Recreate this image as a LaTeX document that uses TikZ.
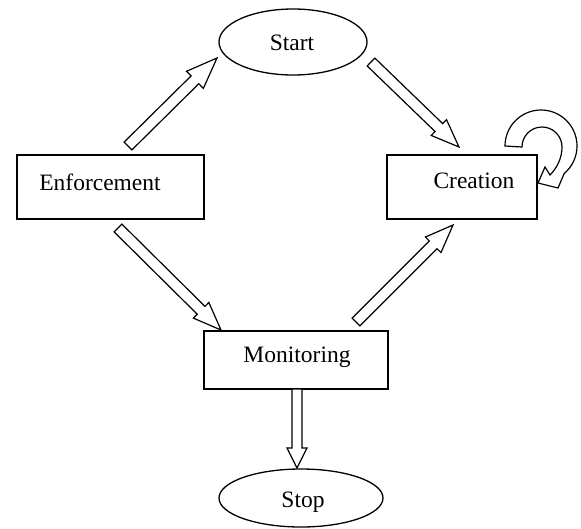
\documentclass[tikz,border=0pt]{standalone}
\usepackage{fontspec}
\setmainfont{Liberation Serif}
\usetikzlibrary{shapes.geometric,calc}

\tikzset{
  stepbox/.style={draw, line width=1.3pt, rectangle, inner sep=0pt},
  terminal/.style={draw, line width=1.3pt, ellipse, inner sep=0pt},
  caption/.style={inner sep=0pt, font=\fontsize{23.5}{28}\selectfont},
  blockarrow/.style={draw, fill=white, line width=1.2pt, line join=miter},
}

% hollow block arrow: tail, tip, shaft half-width, head half-width, head length
\newcommand\hollowarrow[5]{%
  \coordinate (hb) at ($(#2)!#5!(#1)$);
  \path[blockarrow]
    ($(#1)!#3!90:(#2)$) -- ($(hb)!#3!90:(#2)$) -- ($(hb)!#4!90:(#2)$) -- (#2)
    -- ($(hb)!#4!-90:(#2)$) -- ($(hb)!#3!-90:(#2)$) -- ($(#1)!#3!-90:(#2)$) -- cycle;
}

\begin{document}
\begin{tikzpicture}[x=1pt, y=1pt]
  \useasboundingbox (0,0) rectangle (581,-528);

  % states
  \node[terminal, minimum width=148pt, minimum height=66pt] (start) at (293,-42) {};
  \node[caption] (start-t) at (292,-43) {Start};

  \node[stepbox, minimum width=187pt, minimum height=64pt] (enf) at (110.5,-187) {};
  \node[caption] (enf-t) at (100,-182) {Enforcement};

  \node[stepbox, minimum width=150pt, minimum height=64pt] (cre) at (462,-187) {};
  \node[caption] (cre-t) at (474,-181) {Creation};

  \node[stepbox, minimum width=184pt, minimum height=58pt] (mon) at (296,-360) {};
  \node[caption] (mon-t) at (297,-357) {Monitoring};

  \node[terminal, minimum width=164pt, minimum height=58pt] (stop) at (301,-498) {};
  \node[caption] (stop-t) at (303,-502) {Stop};

  % arrow end points
  \coordinate (a1t) at (128,-146);  \coordinate (a1h) at (217,-58);
  \coordinate (a2t) at (371,-62);   \coordinate (a2h) at (459,-147);
  \coordinate (a3t) at (118,-228);  \coordinate (a3h) at (221,-330);
  \coordinate (a4t) at (356,-322);  \coordinate (a4h) at (453,-225);
  \coordinate (a5t) at (297,-389);  \coordinate (a5h) at (297,-468);

  \hollowarrow{a1t}{a1h}{5.5pt}{12pt}{31pt}
  \hollowarrow{a2t}{a2h}{5.5pt}{11pt}{28pt}
  \hollowarrow{a3t}{a3h}{5.5pt}{11pt}{28pt}
  \hollowarrow{a4t}{a4h}{5.5pt}{11pt}{28pt}
  \hollowarrow{a5t}{a5h}{5pt}{10pt}{20pt}

  % circular arrow returning into Creation
  \path[blockarrow] (505,-146) arc[start angle=180, end angle=-50, radius=36]
    -- (558,-188) -- (538,-183) -- (545,-167) -- (550,-175)
    .. controls (557,-168) and (562,-158) .. (562,-147)
    arc[start angle=0, end angle=180, radius=20] -- cycle;
\end{tikzpicture}
\end{document}
